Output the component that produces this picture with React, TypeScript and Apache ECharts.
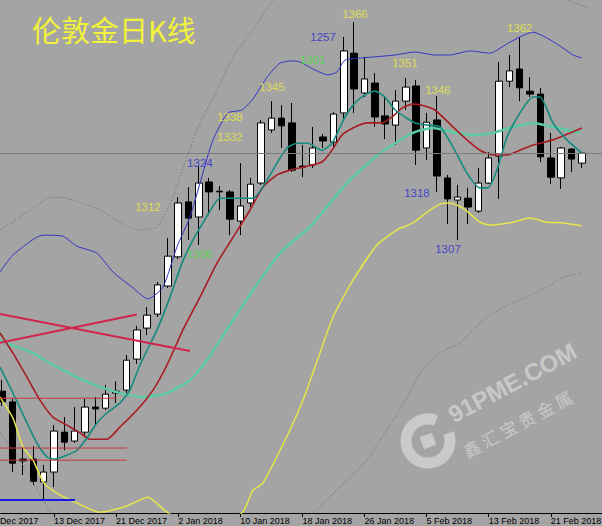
import React, { useEffect, useRef } from 'react';
import * as echarts from 'echarts';

// trading days; index 0 is the (partly hidden) bar before the first visible candle
const dates = ['5 Dec 2017','6 Dec 2017','7 Dec 2017','8 Dec 2017','11 Dec 2017','12 Dec 2017','13 Dec 2017','14 Dec 2017','15 Dec 2017','18 Dec 2017','19 Dec 2017','20 Dec 2017','21 Dec 2017','22 Dec 2017','26 Dec 2017','27 Dec 2017','28 Dec 2017','29 Dec 2017','2 Jan 2018','3 Jan 2018','4 Jan 2018','5 Jan 2018','8 Jan 2018','9 Jan 2018','10 Jan 2018','11 Jan 2018','12 Jan 2018','15 Jan 2018','16 Jan 2018','17 Jan 2018','18 Jan 2018','19 Jan 2018','22 Jan 2018','23 Jan 2018','24 Jan 2018','25 Jan 2018','26 Jan 2018','29 Jan 2018','30 Jan 2018','31 Jan 2018','1 Feb 2018','2 Feb 2018','5 Feb 2018','6 Feb 2018','7 Feb 2018','8 Feb 2018','9 Feb 2018','12 Feb 2018','13 Feb 2018','14 Feb 2018','15 Feb 2018','16 Feb 2018','19 Feb 2018','20 Feb 2018','21 Feb 2018','22 Feb 2018','23 Feb 2018','26 Feb 2018','27 Feb 2018','28 Feb 2018'];

// candles (bars 0..56 = 6 Dec 2017 .. 26 Feb 2018)
const openP = [1266.0,1263.1,1247.6,1247.6,1241.4,1244.1,1254.9,1252.5,1254.9,1261.7,1261.4,1265.5,1266.3,1274.7,1283.1,1286.9,1294.5,1302.4,1317.3,1313.2,1322.7,1320.2,1320.0,1312.1,1317.0,1322.4,1336.8,1340.0,1338.7,1327.0,1327.3,1334.9,1333.5,1341.4,1357.6,1346.8,1349.5,1340.6,1338.1,1344.6,1348.7,1331.9,1339.5,1323.8,1317.8,1318.3,1314.8,1322.4,1329.7,1350.0,1353.3,1347.3,1346.5,1329.2,1323.8,1331.6,1327.8];
const closeP = [1263.1,1246.5,1247.1,1241.6,1244.1,1255.2,1252.2,1255.2,1261.7,1261.2,1265.2,1266.0,1274.4,1282.6,1286.6,1294.8,1302.6,1317.0,1312.9,1322.4,1320.0,1320.0,1312.6,1316.2,1322.1,1338.7,1340.0,1337.9,1325.9,1326.7,1331.9,1333.8,1341.1,1358.2,1347.9,1350.6,1340.3,1338.4,1344.6,1348.4,1331.3,1338.9,1324.3,1318.1,1318.6,1315.9,1322.4,1329.2,1350.0,1352.8,1348.2,1346.5,1329.5,1324.0,1331.9,1328.9,1330.5];
const highP = [1269.0,1263.9,1251.1,1251.1,1246.0,1256.8,1259.0,1261.7,1263.9,1264.4,1267.7,1268.7,1275.8,1283.7,1288.8,1295.6,1307.5,1318.6,1321.3,1326.9,1323.8,1321.6,1320.5,1327.8,1323.8,1339.5,1344.6,1343.5,1344.1,1332.7,1337.6,1335.7,1341.6,1362.0,1366.0,1356.6,1352.2,1345.7,1347.6,1350.9,1350.3,1341.4,1346.0,1324.6,1321.9,1321.1,1326.5,1330.8,1355.2,1357.1,1362.0,1351.1,1348.2,1336.0,1332.2,1331.9,1330.8];
const lowP = [1262.0,1244.1,1243.3,1240.6,1236.5,1240.0,1250.0,1252.0,1253.6,1256.8,1260.9,1262.8,1265.5,1273.4,1281.2,1286.1,1294.0,1301.8,1307.0,1305.6,1313.7,1315.1,1308.3,1308.3,1315.9,1321.9,1336.0,1331.9,1325.4,1324.0,1326.5,1331.9,1332.2,1339.5,1341.4,1345.7,1337.6,1334.3,1332.7,1342.2,1327.3,1328.6,1320.0,1311.3,1307.0,1311.3,1314.3,1322.1,1318.1,1348.4,1344.6,1345.7,1328.1,1322.1,1320.8,1325.4,1326.5];
const lastPrice = 1330.5;

// indicator lines: [bar, price]
const maFast = [[-0.22,1272.5],[1.04,1265.5],[2.39,1257.4],[3.36,1251.9],[4.32,1248.2],[5.10,1247.6],[6.26,1248.7],[7.22,1250.0],[8.19,1253.3],[9.15,1257.4],[10.12,1260.1],[11.38,1262.8],[12.34,1266.3],[13.31,1273.1],[14.95,1282.6],[16.21,1291.5],[17.37,1300.7],[18.43,1307.0],[19.40,1311.6],[21.04,1318.3],[22.00,1318.3],[24.23,1318.3],[25.58,1323.2],[26.55,1327.8],[27.51,1331.9],[28.48,1333.2],[29.54,1333.2],[30.89,1331.3],[31.86,1333.2],[33.12,1340.3],[34.08,1344.1],[35.05,1346.3],[36.01,1347.3],[36.98,1345.7],[37.95,1342.2],[38.91,1340.3],[39.88,1338.7],[41.14,1338.1],[42.30,1337.6],[43.55,1332.2],[44.90,1325.1],[46.16,1321.1],[46.93,1321.1],[47.80,1325.9],[48.77,1334.9],[50.02,1341.4],[51.28,1345.7],[51.96,1345.7],[53.21,1338.7],[54.56,1334.1],[56.01,1330.5]];
const maMid = [[-0.22,1281.8],[1.04,1276.3],[2.39,1269.8],[3.65,1263.6],[4.90,1259.0],[6.26,1256.8],[7.51,1254.7],[8.48,1253.0],[10.12,1253.0],[11.38,1256.3],[13.02,1260.9],[14.57,1266.3],[15.92,1273.1],[17.46,1282.6],[19.11,1291.5],[20.75,1300.7],[22.33,1307.8],[23.94,1315.1],[25.19,1321.3],[26.55,1324.6],[27.80,1325.9],[29.06,1326.7],[30.89,1328.1],[31.86,1331.3],[32.82,1335.4],[34.08,1337.6],[35.34,1338.7],[36.69,1338.7],[37.66,1340.3],[38.62,1342.7],[39.59,1343.8],[40.56,1343.5],[41.81,1342.2],[43.55,1337.6],[44.90,1334.1],[46.16,1331.3],[47.42,1330.0],[48.77,1330.0],[50.02,1331.3],[51.28,1332.7],[53.21,1334.1],[56.01,1337.3]];
const maSlow = [[-0.22,1279.9],[0.46,1279.0],[2.97,1276.3],[4.61,1273.6],[7.80,1269.0],[10.41,1266.3],[13.60,1264.4],[15.92,1265.5],[18.14,1269.0],[19.78,1274.4],[22.30,1285.3],[24.90,1296.1],[27.13,1304.3],[29.73,1310.5],[33.31,1322.4],[36.50,1330.5],[39.69,1336.0],[41.62,1337.3],[43.55,1336.2],[45.48,1335.4],[47.42,1336.0],[49.35,1337.6],[51.28,1338.7],[53.21,1337.6],[55.82,1336.0]];
const bandUpper = [[-0.22,1298.3],[1.04,1302.9],[3.94,1308.3],[5.87,1308.0],[7.22,1305.3],[9.15,1303.4],[10.70,1298.3],[12.63,1294.0],[14.08,1291.0],[15.53,1294.2],[16.88,1305.1],[18.14,1313.2],[19.11,1322.4],[20.36,1334.1],[21.81,1341.4],[23.16,1342.2],[24.23,1345.2],[25.58,1351.1],[26.84,1354.9],[28.09,1355.5],[28.77,1355.2],[30.22,1353.0],[31.47,1351.7],[32.34,1352.5],[33.12,1355.7],[34.76,1356.3],[36.01,1356.6],[37.95,1357.1],[39.88,1357.9],[41.81,1357.1],[43.26,1357.1],[45.19,1358.2],[47.12,1357.6],[49.06,1360.6],[51.28,1363.3],[52.63,1361.7],[54.18,1359.0],[55.15,1357.1],[56.01,1356.3]];
const bandLower = [[-0.22,1264.4],[1.04,1258.7],[2.00,1250.9],[2.97,1247.3],[4.03,1241.1],[5.29,1238.4],[7.22,1235.7],[9.44,1233.2],[12.05,1234.9],[14.08,1237.3],[15.92,1233.2],[19.59,1228.4],[23.16,1233.0],[24.23,1239.2],[25.19,1241.1],[27.80,1255.5],[29.06,1263.6],[30.02,1270.9],[31.96,1286.1],[33.89,1296.1],[36.21,1305.6],[38.14,1309.7],[39.69,1311.6],[41.04,1314.5],[42.30,1316.7],[43.26,1317.0],[44.52,1315.6],[46.16,1311.8],[47.12,1311.0],[49.35,1311.8],[50.99,1312.9],[52.63,1311.8],[54.18,1311.6],[56.01,1310.8]];
const outerUpper = [[-0.22,1309.7],[1.71,1313.2],[4.90,1318.6],[6.26,1318.3],[9.44,1315.1],[13.02,1309.7],[14.95,1310.5],[16.50,1318.6],[17.85,1329.5],[19.11,1338.7],[20.75,1347.6],[22.30,1356.6],[24.23,1363.9],[26.16,1372.0],[28.77,1380.1],[38.43,1385.6],[48.09,1380.1],[53.89,1372.8],[55.34,1371.2],[56.79,1369.8]];
const outerLower = [[-0.22,1254.9],[1.71,1247.3],[3.94,1236.5],[5.10,1231.6],[11.38,1218.0],[21.04,1216.0],[30.02,1233.2],[33.31,1241.9],[35.24,1247.3],[37.17,1255.5],[39.11,1264.4],[40.36,1270.9],[42.30,1276.3],[44.23,1279.0],[45.48,1282.6],[46.84,1286.1],[48.77,1289.3],[50.70,1291.5],[52.63,1294.2],[54.18,1296.9],[56.01,1298.0]];

// hand-drawn objects
const trendA = [[-0.22,1286.9],[18.14,1276.9]];
const trendB = [[-0.22,1279.1],[12.99,1286.8]];
const levelA = [[-0.22,1264.1],[11.06,1264.1]];
const levelB = [[-0.22,1250.6],[12.05,1250.6]];
const levelC = [[-0.22,1247.3],[12.05,1247.3]];
const levelLow = [[-0.22,1236.5],[7.03,1236.5]];

// price annotations
const yellowNotes = [{ t: '1366', x: 34.08, y: 1368.2 }, { t: '1362', x: 50.0, y: 1364.4 }, { t: '1351', x: 38.91, y: 1354.9 }, { t: '1346', x: 42.1, y: 1347.6 }, { t: '1345', x: 26.06, y: 1348.4 }, { t: '1338', x: 22.0, y: 1340.3 }, { t: '1332', x: 22.0, y: 1334.9 }, { t: '1312', x: 14.08, y: 1315.9 }];
const blueNotes = [{ t: '1257', x: 31.0, y: 1362.0 }, { t: '1324', x: 19.1, y: 1327.8 }, { t: '1318', x: 40.07, y: 1319.7 }, { t: '1307', x: 43.07, y: 1304.5 }];
const greenNotes = [{ t: '1301', x: 30.0, y: 1355.7 }, { t: '1306', x: 19.1, y: 1303.2 }];

const TITLE = '伦敦金日K线';

export default function App() {
  const ref = useRef<HTMLDivElement>(null);
  useEffect(() => {
    if (!ref.current) return;
    const chart = echarts.init(ref.current, null, { renderer: 'svg' });
    const candleData = dates.map((_, k) => {
      const i = k - 1;
      if (i < 0 || i >= openP.length) return ['-', '-', '-', '-'];
      return [openP[i], closeP[i], lowP[i], highP[i]];
    });
    const showEvery = (i: number) => i % 6 === 0;
    const line = (data: number[][], color: string, width: number, type: any = 'solid', z = 3) => ({
      type: 'line', xAxisIndex: 1, yAxisIndex: 0, data, symbol: 'none', showSymbol: false,
      smooth: 0.2, clip: true, silent: true, z,
      lineStyle: { color, width, type },
    });
    const straight = (data: number[][], color: string, width: number) => ({
      type: 'line', xAxisIndex: 1, yAxisIndex: 0, data, symbol: 'none', showSymbol: false,
      clip: true, silent: true, z: 4, lineStyle: { color, width },
    });
    const notes = (items: { t: string; x: number; y: number }[], color: string) => ({
      type: 'scatter', xAxisIndex: 1, yAxisIndex: 0, symbolSize: 1, silent: true, z: 6,
      itemStyle: { color: 'rgba(0,0,0,0)' },
      label: { show: true, position: 'inside', formatter: '{b}', color, fontSize: 11.5, fontFamily: 'Liberation Sans' },
      data: items.map((n) => ({ name: n.t, value: [n.x, n.y] })),
    });
    const wm = 'rgba(255,255,255,0.42)';
    chart.setOption({
      animation: false,
      backgroundColor: '#a4a4a4',
      title: {
        text: TITLE, left: 32, top: 14, padding: 0,
        textStyle: { color: '#f2f23a', fontSize: 29, fontWeight: 'normal', fontFamily: 'Noto Sans CJK SC' },
      },
      grid: { left: -13.3, right: -5.7, top: 0, bottom: 13, containLabel: false, outerBoundsMode: 'none' },
      xAxis: [
        {
          type: 'category', data: dates, boundaryGap: true,
          axisLine: { lineStyle: { color: '#000', width: 1 } },
          axisTick: { show: true, alignWithLabel: true, interval: showEvery, length: 4, lineStyle: { color: '#000' } },
          axisLabel: {
            interval: showEvery, align: 'left', color: '#000', fontSize: 9, fontFamily: 'Liberation Sans', margin: 3,
            // the first label sits left of the page: show only its visible part, from the page edge
            formatter: (v: string, i: number) => (i === 0 ? '{edge|' + v.replace(/^\d+ /, '') + '}' : v),
            rich: { edge: { color: '#000', fontSize: 9, fontFamily: 'Liberation Sans', padding: [0, 0, 0, 8] } },
          },
          splitLine: { show: false },
        },
        { type: 'value', min: -1.5, max: 58.5, show: false },
      ],
      yAxis: { type: 'value', min: 1233, max: 1372, show: false, splitLine: { show: false } },
      graphic: [
        { type: 'arc', shape: { cx: 428, cy: 441, r: 22, startAngle: -0.12 * Math.PI, endAngle: 1.62 * Math.PI, clockwise: true }, style: { stroke: wm, lineWidth: 11, fill: 'none' }, z: 1 },
        { type: 'rect', x: 428, y: 441, rotation: 0.35, shape: { x: -6.5, y: -6.5, width: 13, height: 13 }, style: { fill: wm }, z: 1 },
        { type: 'text', x: 450, y: 416, rotation: 0.49, style: { text: '91PME.COM', fill: wm, fontSize: 24, fontWeight: 'bold', fontFamily: 'Liberation Sans', verticalAlign: 'middle' }, z: 1 },
        { type: 'text', x: 464, y: 452, rotation: 0.49, style: { text: '鑫 汇 宝 贵 金 属', fill: wm, fontSize: 17, fontFamily: 'Noto Sans CJK SC', verticalAlign: 'middle' }, z: 1 },
      ],
      series: [
        {
          type: 'candlestick', xAxisIndex: 0, yAxisIndex: 0, data: candleData, barWidth: 7, z: 2,
          itemStyle: { color: '#ffffff', color0: '#000000', borderColor: '#000000', borderColor0: '#000000', borderWidth: 1 },
          markLine: {
            silent: true, symbol: ['none', 'none'], label: { show: false },
            lineStyle: { color: '#7c7c7c', width: 1, type: 'solid' },
            data: [{ yAxis: lastPrice }],
          },
        },
        line(outerUpper, '#6a6a6a', 1, [1, 2]),
        line(outerLower, '#6a6a6a', 1, [1, 2]),
        line(maSlow, '#5ccaa5', 2.5),
        line(bandUpper, '#3434c8', 1),
        line(bandLower, '#e6e64a', 1.5),
        line(maMid, '#a81c24', 1.6),
        line(maFast, '#138a7e', 1.6),
        straight(levelA, '#c8363c', 1),
        straight(levelB, '#c8363c', 1),
        straight(levelC, '#c8363c', 1),
        straight(levelLow, '#1a1ae0', 2),
        straight(trendA, '#d2234f', 2),
        straight(trendB, '#d2234f', 2),
        notes(yellowNotes, '#ecec3c'),
        notes(blueNotes, '#2a2ad0'),
        notes(greenNotes, '#3ee03e'),
      ],
    });
    return () => chart.dispose();
  }, []);
  return <div ref={ref} style={{ position: 'fixed', left: 0, top: 0, width: 602, height: 526 }} />;
}
